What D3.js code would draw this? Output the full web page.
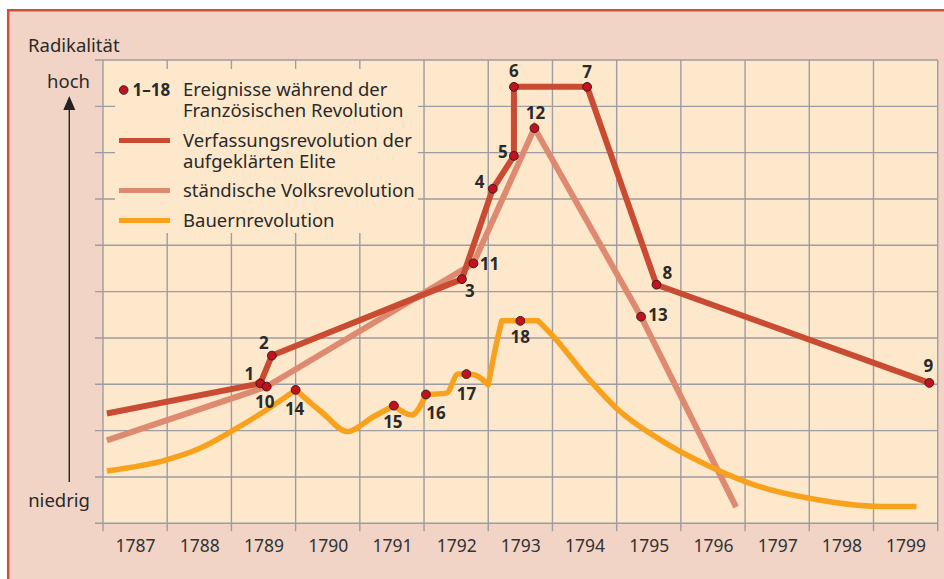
<!DOCTYPE html>
<html>
<head>
<meta charset="utf-8">
<script src="https://cdn.jsdelivr.net/npm/d3@7"></script>
<style>
  body { margin: 0; background: #fff; }
  text { font-family: "Noto Sans", "Open Sans", sans-serif; fill: #2a2a2a; }
</style>
</head>
<body>
<svg id="chart" width="944" height="579"></svg>
<script>
// Immediately Invoked Function Expression to keep the scope tidy
((() => {
  // years on the x axis (each label sits in the middle of its year)
  const years = d3.range(1787, 1800);

  // Verfassungsrevolution der aufgeklärten Elite  [year, radicality 0..10]
  const verfassung = [
    [1787.06, 2.37], [1789.45, 3.02], [1789.63, 3.62], [1792.59, 5.27],
    [1793.07, 7.22], [1793.40, 7.93], [1793.40, 9.42], [1794.54, 9.42],
    [1795.62, 5.15], [1799.87, 3.03]
  ];

  // ständische Volksrevolution
  const volks = [
    [1787.06, 1.79], [1789.55, 2.95], [1792.77, 5.61], [1793.72, 8.53],
    [1795.38, 4.46], [1796.86, 0.35]
  ];

  // Bauernrevolution, in pieces that meet at sharp corners
  const bauern = [
    [[1787.06, 1.13], [1787.99, 1.37], [1788.51, 1.62], [1789.03, 2.01], [1789.55, 2.45], [1790.00, 2.88]],
    [[1790.00, 2.88], [1790.43, 2.37], [1790.80, 1.98], [1791.21, 2.30], [1791.53, 2.54]],
    [[1791.53, 2.54], [1791.81, 2.34], [1792.03, 2.78]],
    [[1792.03, 2.78], [1792.35, 2.81], [1792.53, 3.22], [1792.66, 3.22], [1792.79, 3.20], [1793.00, 2.99]],
    [[1793.00, 2.99], [1793.14, 3.96], [1793.21, 4.37]],
    [[1793.21, 4.37], [1793.50, 4.37], [1793.78, 4.37]],
    [[1793.78, 4.37], [1794.01, 4.04], [1794.53, 3.17], [1795.00, 2.48], [1795.68, 1.80],
     [1796.51, 1.19], [1797.23, 0.79], [1798.00, 0.54], [1799.00, 0.37], [1799.67, 0.36]]
  ];

  // Ereignisse 1-18
  const events = [
    {id: 1, year: 1789.45, value: 3.02}, {id: 2, year: 1789.63, value: 3.62},
    {id: 3, year: 1792.59, value: 5.27}, {id: 4, year: 1793.07, value: 7.22},
    {id: 5, year: 1793.40, value: 7.93}, {id: 6, year: 1793.40, value: 9.42},
    {id: 7, year: 1794.54, value: 9.42}, {id: 8, year: 1795.62, value: 5.15},
    {id: 9, year: 1799.87, value: 3.03}, {id: 10, year: 1789.55, value: 2.95},
    {id: 11, year: 1792.77, value: 5.61}, {id: 12, year: 1793.72, value: 8.53},
    {id: 13, year: 1795.38, value: 4.46}, {id: 14, year: 1790.00, value: 2.88},
    {id: 15, year: 1791.53, value: 2.54}, {id: 16, year: 1792.03, value: 2.78},
    {id: 17, year: 1792.66, value: 3.22}, {id: 18, year: 1793.50, value: 4.37}
  ];

  const legendItems = [
    {kind: "dot", lines: ["Ereignisse während der", "Französischen Revolution"]},
    {kind: "verfassung", lines: ["Verfassungsrevolution der", "aufgeklärten Elite"]},
    {kind: "volks", lines: ["ständische Volksrevolution"]},
    {kind: "bauern", lines: ["Bauernrevolution"]}
  ];

  const colors = {
    outer: "#f1d4c5", border: "#d0513a", plot: "#fee8cc", grid: "#9c9ca2",
    verfassung: "#c94b32", volks: "#dd8a71", bauern: "#f7a11d",
    dot: "#c3121d", dotStroke: "#3a1c1c"
  };

  // label offsets (px) from each event dot
  const labelOffset = {
    1: [-11, -10], 2: [-8, -13], 3: [8, 12], 4: [-13, -7], 5: [-11, -4],
    6: [0, -16], 7: [0, -15], 8: [11, -12], 9: [-1, -17], 10: [-2, 15],
    11: [16, 0], 12: [1, -15], 13: [17, -2], 14: [-1, 19], 15: [-1, 16],
    16: [10, 18], 17: [0, 20], 18: [0, 16]
  };

  const svg = d3.select("#chart");
  const left = 103, right = 937.7, top = 60, bottom = 523.3;
  const fs = "18.5px";

  const x = d3.scaleLinear().domain([1787, 1800]).range([left, right]);
  const y = d3.scaleLinear().domain([0, 10]).range([bottom, top]);

  // outer panel with border on top and left
  svg.append("rect").attr("width", 944).attr("height", 579).attr("fill", "#fff");
  svg.append("rect").attr("x", 7).attr("y", 9).attr("width", 937).attr("height", 570)
    .attr("fill", colors.outer);
  svg.append("path").attr("d", "M8.2,579V10.2H944")
    .attr("fill", "none").attr("stroke", colors.border).attr("stroke-width", 2.5);

  // plot background
  svg.append("rect").attr("x", left).attr("y", top)
    .attr("width", right - left).attr("height", bottom - top).attr("fill", colors.plot);

  // grid
  const grid = svg.append("g").attr("stroke", colors.grid).attr("stroke-width", 1.4);
  grid.selectAll(".v").data(d3.range(1787, 1801)).enter().append("line")
    .attr("x1", d => x(d)).attr("x2", d => x(d))
    .attr("y1", top).attr("y2", bottom + 8);
  grid.selectAll(".h").data(d3.range(0, 11)).enter().append("line")
    .attr("x1", left - 8).attr("x2", right)
    .attr("y1", d => y(d)).attr("y2", d => y(d));

  // year labels
  const xAxis = svg.append("g")
    .attr("transform", `translate(0,${bottom})`)
    .call(d3.axisBottom(x).tickValues(years.map(d => d + 0.5)).tickSize(0)
      .tickFormat(d => String(Math.floor(d))));
  xAxis.select(".domain").remove();
  xAxis.selectAll("text")
    .attr("y", 16).attr("dy", "0.71em")
    .style("font-family", "\"Noto Sans\", sans-serif")
    .style("font-size", "17.5px").style("fill", "#333");

  // y axis title and arrow
  svg.append("text").attr("x", 28).attr("y", 52).style("font-size", fs).text("Radikalität");
  svg.append("text").attr("x", 90).attr("y", 88).attr("text-anchor", "end")
    .style("font-size", fs).text("hoch");
  svg.append("text").attr("x", 90).attr("y", 507).attr("text-anchor", "end")
    .style("font-size", fs).text("niedrig");
  svg.append("line").attr("x1", 69.3).attr("x2", 69.3).attr("y1", 482).attr("y2", 106)
    .attr("stroke", "#222").attr("stroke-width", 1.4);
  svg.append("path").attr("d", "M69.3,96L75.3,110L63.3,110Z").attr("fill", "#222");

  // legend
  const legend = svg.append("g");
  legend.append("rect").attr("x", 115).attr("y", 69).attr("width", 303).attr("height", 164)
    .attr("fill", colors.plot);
  const rowY = [96, 147, 197, 227];
  legendItems.forEach((item, i) => {
    const by = rowY[i];
    if (item.kind === "dot") {
      legend.append("circle").attr("cx", 123.7).attr("cy", by - 6).attr("r", 4.3)
        .attr("fill", colors.dot).attr("stroke", colors.dotStroke).attr("stroke-width", 1);
      legend.append("text").attr("x", 132.5).attr("y", by)
        .style("font-size", "17px").style("font-weight", "bold").text("1–18");
    } else {
      legend.append("line").attr("x1", 119).attr("x2", 170)
        .attr("y1", by - 6.5).attr("y2", by - 6.5)
        .attr("stroke", colors[item.kind]).attr("stroke-width", 5);
    }
    item.lines.forEach((t, j) => {
      legend.append("text").attr("x", 183).attr("y", by + j * 20.5)
        .style("font-size", fs).text(t);
    });
  });

  // lines
  const line = d3.line().x(d => x(d[0])).y(d => y(d[1]));

  svg.append("path").datum(volks)
    .attr("d", line)
    .attr("fill", "none").attr("stroke", colors.volks).attr("stroke-width", 6)
    .attr("stroke-linejoin", "miter").attr("stroke-miterlimit", 3);

  svg.append("path").datum(verfassung)
    .attr("d", line)
    .attr("fill", "none").attr("stroke", colors.verfassung).attr("stroke-width", 6)
    .attr("stroke-linejoin", "miter").attr("stroke-miterlimit", 3);

  const curve = d3.line().x(d => x(d[0])).y(d => y(d[1])).curve(d3.curveMonotoneX);
  const bauernPath = bauern.map((seg, i) => {
    const p = curve(seg);
    return i === 0 ? p : p.replace(/^M/, "L");
  }).join("");
  svg.append("path").attr("d", bauernPath)
    .attr("fill", "none").attr("stroke", colors.bauern).attr("stroke-width", 5.5)
    .attr("stroke-linejoin", "round");

  // event dots and numbers
  const ev = svg.append("g");
  ev.selectAll("circle").data(events).enter().append("circle")
    .attr("cx", d => x(d.year)).attr("cy", d => y(d.value)).attr("r", 4.4)
    .attr("fill", colors.dot).attr("stroke", colors.dotStroke).attr("stroke-width", 1);
  ev.selectAll("text").data(events).enter().append("text")
    .attr("x", d => x(d.year) + labelOffset[d.id][0])
    .attr("y", d => y(d.value) + labelOffset[d.id][1])
    .attr("text-anchor", "middle").attr("dy", "0.36em")
    .style("font-size", "17px").style("font-weight", "bold")
    .text(d => d.id);
})());
</script>
</body>
</html>
